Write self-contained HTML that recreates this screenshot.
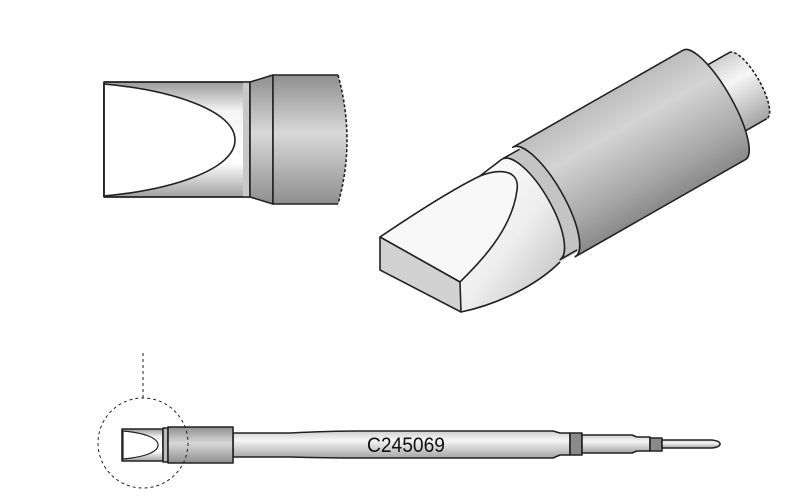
<!DOCTYPE html>
<html><head><meta charset="utf-8"><style>html,body{margin:0;padding:0;background:#fff}svg{display:block}</style></head>
<body>
<svg width="800" height="498" viewBox="0 0 800 498" xmlns="http://www.w3.org/2000/svg">
<defs>
<linearGradient id="gv" x1="0" y1="0" x2="0" y2="1">
<stop offset="0" stop-color="#8f8f8f"/><stop offset="0.45" stop-color="#d8d8d8"/><stop offset="1" stop-color="#8f8f8f"/></linearGradient>
<linearGradient id="gw" x1="0" y1="0" x2="0" y2="1">
<stop offset="0" stop-color="#9a9a9a"/><stop offset="0.25" stop-color="#f4f4f4"/><stop offset="0.7" stop-color="#ffffff"/><stop offset="1" stop-color="#a0a0a0"/></linearGradient>
<linearGradient id="gb" x1="0" y1="0" x2="0" y2="1">
<stop offset="0" stop-color="#bdbdbd"/><stop offset="0.3" stop-color="#d4d4d4"/><stop offset="0.75" stop-color="#a8a8a8"/><stop offset="1" stop-color="#8a8a8a"/></linearGradient>
<linearGradient id="gs" x1="0" y1="0" x2="0" y2="1">
<stop offset="0" stop-color="#cfcfcf"/><stop offset="0.35" stop-color="#f6f6f6"/><stop offset="1" stop-color="#a5a5a5"/></linearGradient>
<linearGradient id="gc" x1="0" y1="0" x2="1" y2="1">
<stop offset="0" stop-color="#ffffff"/><stop offset="0.5" stop-color="#eeeeee"/><stop offset="1" stop-color="#b0b0b0"/></linearGradient>
</defs>
<g stroke="#222" stroke-width="1.6" stroke-linejoin="round">
<!-- top-left view -->
<rect x="104" y="82" width="146" height="115" fill="url(#gw)"/>
<path d="M104,84 C170,90 235,110 235,140 C235,170 170,190 104,196 Z" fill="#fff"/>
<rect x="243" y="82" width="7" height="115" fill="#c8c8c8" stroke="none"/>
<line x1="250" y1="82" x2="250" y2="197"/>
<path d="M250,82 L273,75 L273,204 L250,197 Z" fill="url(#gv)"/>
<path d="M273,75 L338,75 Q356,140 338,204 L273,204 Z" fill="url(#gv)" stroke="none"/>
<path d="M338,75 L273,75 L273,204 L338,204" fill="none"/>
<path d="M338,75 Q356,140 338,204" fill="none" stroke-dasharray="3,2"/>
<line x1="104" y1="82" x2="250" y2="82"/><line x1="104" y1="197" x2="250" y2="197"/><line x1="104" y1="82" x2="104" y2="197"/>

<!-- isometric view -->
<path d="M460,282 L480,176 C490,168 496,164 502,159 L530,150 L580,250 L560,262 C535,287 495,305 461,312 Z" fill="url(#gc)" stroke="none"/>
<path d="M480,176 C490,168 496,164 502,159" fill="none"/>
<g transform="translate(544,202) rotate(-29.7)">
<path d="M190,-38 L235,-38 A12,38 0 0 1 235,38 L190,38 Z" fill="url(#gs)" stroke="none"/>
<path d="M190,-38 L235,-38 M235,38 L190,38"/>
<path d="M235,-38 A12,38 0 0 1 235,38" fill="none" stroke-dasharray="3,2"/>
<path d="M-15,-58 L20,-58 L20,58 L-15,58 A20,58 0 0 0 -15,-58 Z" fill="#c4c4c4" stroke="none"/>
<path d="M-15,-58 L5,-58 M-15,58 L5,58" fill="none"/>
<path d="M-15,-58 A20,58 0 0 1 -15,58" fill="none"/>
<path d="M0,-63 L196,-63 A18,63 0 0 1 196,63 L0,63 A20,63 0 0 0 0,-63 Z" fill="url(#gb)"/>
</g>
<path d="M461,312 C495,305 535,287 560,262" fill="none"/>
<path d="M380,237 C420,210 455,188 480,176 C500,168 520,170 517,190 C512,230 480,262 460,282 Z" fill="#f8f8f8"/>
<path d="M380,237 L460,282 L461,312 L380,270 Z" fill="#d2d2d2"/>

<!-- bottom view -->
<line x1="143" y1="353" x2="143" y2="400" stroke-width="1" stroke-dasharray="3,3"/>
<path d="M233,433 L290,433 Q330,431 360,431 L553,431 L560,433 L570,433 L570,455 L560,455 L553,458 L360,458 Q330,458 290,457 L233,457 Z" fill="url(#gs)"/>
<rect x="570" y="433" width="12" height="22" fill="#8a8a8a"/>
<path d="M582,435 L632,435 L637,437 L650,437 L650,451 L637,451 L632,453 L582,453 Z" fill="url(#gs)"/>
<rect x="650" y="438" width="12" height="13" fill="#8a8a8a"/>
<path d="M662,440 L712,440 Q720,441 720,444 Q720,447 712,448 L662,448 Z" fill="url(#gs)"/>
<rect x="122" y="429" width="41" height="32" fill="url(#gw)"/>
<path d="M123,431 C145,433 158,438 158,445 C158,452 145,457 123,459 Z" fill="#fff" stroke-width="1.2"/>
<rect x="163" y="428" width="5" height="34" fill="#bbb"/>
<rect x="168" y="427" width="65" height="36" fill="url(#gv)"/>
<circle cx="143" cy="443" r="45" fill="none" stroke-width="1" stroke-dasharray="3,3"/>
</g>
<text x="367" y="452" font-family="Liberation Sans, sans-serif" font-size="21" textLength="78" lengthAdjust="spacingAndGlyphs" fill="#111">C245069</text>
</svg>
</body></html>
